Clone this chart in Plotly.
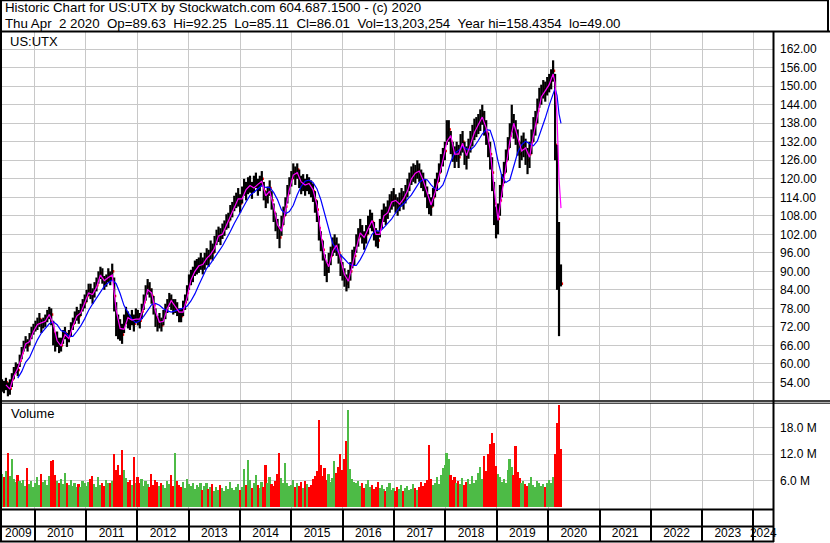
import pandas as pd
import plotly.graph_objects as go

# ---------------- data (biweekly bars) ----------------
close = [
    53, 52.5, 54, 51.5, 52, 55, 57, 59, 58, 61,
    63.5, 66, 67, 66, 68.5, 70, 71, 72.5, 73, 74.5,
    72, 73.5, 74, 75.5, 76.5, 76, 70, 67, 68, 65.5,
    66, 69, 70, 67.5, 69, 71.5, 73, 75, 76, 75.5,
    77.5, 79, 80, 82, 84, 83, 82, 84, 85.5, 88,
    89.5, 88, 86, 87, 89, 87.5, 90, 82, 73, 72,
    71, 69.5, 73, 76, 74, 73.5, 75, 73, 76, 75,
    74, 77, 80, 83, 85, 84, 82, 79, 75, 73,
    74, 72.5, 75, 77, 79, 81, 80, 78.5, 79, 77.5,
    76, 75.5, 78, 80, 83, 86.5, 88, 89, 91, 91.5,
    92, 93, 91.5, 93.5, 95, 94, 97, 96, 99, 101,
    102, 101, 103, 104, 106, 106.5, 109, 110, 112, 113,
    114, 112, 115, 117, 116, 117.5, 118, 116, 118, 119.5,
    117, 118.5, 120, 116, 113, 115, 117, 113, 109, 106,
    104, 101, 105, 108, 111, 115, 118, 120, 122.5, 121,
    123, 120, 118, 119, 117, 119, 118, 117, 116, 113,
    110, 104, 100, 97, 92, 90, 93, 95, 98, 99,
    98, 96, 92, 90, 88, 86, 87.5, 90, 94, 95,
    99, 101, 104, 102, 100, 102, 105, 107, 106, 103,
    101, 100, 104, 107, 109, 108, 110, 112, 113, 114,
    112, 111, 112.5, 114, 113, 115, 117, 119, 121, 122,
    121.5, 123, 122, 120, 119, 117, 114, 112, 111, 114,
    117, 119, 122, 125, 127, 129, 135, 136, 132, 129,
    127, 129, 127, 131, 132, 128, 127, 130, 132, 134,
    136, 137, 138, 139, 141, 138, 135, 131, 128, 122,
    112, 106, 107, 113, 118, 122, 126, 130, 134, 139,
    137, 135, 132, 128, 130, 131, 129, 126, 128, 132,
    136, 138, 142, 146, 147, 149, 148, 150, 151, 152,
    155, 131, 96, 88, 86.01,
]
high = [
    55, 54.5, 55.5, 54, 55, 57, 59, 60.5, 60, 63,
    65.5, 67.5, 69, 68, 70, 72, 73, 74, 75, 76.5,
    74.5, 75, 76, 77.5, 78.5, 78, 74, 70, 70.5, 68.5,
    68.5, 71, 72, 70, 71, 73.5, 75, 77, 78.5, 77.5,
    79.5, 81, 82.5, 84, 86, 86, 84.5, 86.5, 88, 90,
    91.5, 91, 88.5, 89, 91, 90, 92.5, 88, 80, 76,
    74.5, 73, 76, 78.5, 77, 76, 77.5, 76, 78, 77.5,
    76.5, 79.5, 82.5, 85.5, 87.5, 86.5, 84.5, 82, 78, 75.5,
    76.5, 75, 77.5, 79.5, 81, 83, 82.5, 81, 81, 80,
    78, 78, 80.5, 82.5, 85.5, 89, 90.5, 91.5, 93.5, 94,
    94.5, 96, 94.5, 96, 97.5, 97, 100, 99, 101.5, 103.5,
    104.5, 104, 105.5, 106.5, 108.5, 109, 111.5, 112.5, 114.5, 115.5,
    117, 115, 117.5, 120, 119, 120.5, 121, 119, 121, 122,
    120, 121, 122.5, 119, 116, 117.5, 119.5, 116, 112, 109,
    107, 104.5, 108, 111, 114, 118, 120.5, 122.5, 125, 124,
    125, 123, 121, 121.5, 120, 121.5, 120.5, 119.5, 118.5, 116,
    113, 108, 103, 100, 95.5, 93, 96, 98, 101, 102,
    101, 99, 95.5, 93, 91, 89, 90.5, 93, 97, 98,
    102, 104, 107, 105, 103, 105, 108, 110, 109, 106,
    104, 103, 107, 110, 112, 111, 113, 115, 116, 117,
    115, 114, 115.5, 117, 116, 118, 120, 122, 124, 125,
    124.5, 126, 125, 123, 122, 120, 117.5, 115, 114, 117,
    120, 122, 125, 128, 130, 132, 139, 139, 135.5, 132,
    130.5, 132, 131, 134.5, 135.5, 132, 130.5, 133, 135.5, 137.5,
    139.5, 140, 141, 142.5, 144, 142, 139, 135, 132, 127,
    119, 111, 112, 118, 121.5, 125.5, 129.5, 133.5, 138, 144,
    141, 139, 136, 132, 134, 135, 133, 130, 132, 136,
    140, 142, 146, 149.5, 150.5, 152, 151.5, 153, 154, 155.5,
    158.4, 154, 131, 106, 92.25,
]
low = [
    51, 50.5, 51.5, 49.5, 50, 52.5, 55, 57, 56, 59,
    61.5, 64, 65, 64, 66, 68, 69.5, 70.5, 71, 72,
    70, 71.5, 72, 73.5, 74.5, 72.5, 66, 64, 65.5, 63.5,
    64, 66.5, 68, 65.5, 67, 69, 71, 73, 74, 73,
    75.5, 77, 78, 80, 82, 81, 79.5, 81.5, 83.5, 86,
    87.5, 86, 84, 85, 86.5, 85.5, 87, 77, 69, 68,
    67.5, 66.5, 70, 73, 71.5, 71, 72.5, 70.5, 73.5, 72.5,
    71.5, 74.5, 77.5, 80.5, 82.5, 81.5, 79.5, 76, 72, 70.5,
    71.5, 70.5, 72.5, 74.5, 76.5, 78.5, 77.5, 76, 76.5, 75.5,
    73.5, 73.5, 75.5, 77.5, 80.5, 84, 85.5, 86.5, 88.5, 89,
    89.5, 90.5, 89, 90.5, 92, 91.5, 94, 93.5, 96, 98.5,
    99.5, 98.5, 100.5, 101.5, 103.5, 104, 106.5, 107.5, 109.5, 110.5,
    111, 109, 112, 114.5, 113, 115, 115.5, 113.5, 115.5, 117,
    114.5, 116, 117.5, 113, 110.5, 112, 114.5, 110, 106, 103,
    100.5, 97.5, 101.5, 105, 108, 112, 115, 117.5, 120, 118,
    120, 117, 115, 116, 114.5, 116, 115, 114, 112.5, 109,
    106, 100, 96.5, 93.5, 88.5, 86.5, 89.5, 92, 95, 96,
    95, 92.5, 88.5, 87, 85, 83.5, 84.5, 87, 91, 92,
    96, 98, 101, 99, 97, 99, 102, 104, 103, 100,
    98, 97.5, 101, 104, 106, 105, 107, 109, 110, 111,
    109, 108, 109.5, 111, 110, 112, 114, 116, 118, 119,
    118.5, 120, 119, 117, 116, 114, 110.5, 108.5, 108, 111,
    114, 116, 119, 122, 124, 126, 131, 132, 128, 125.5,
    123.5, 125.5, 123.5, 127.5, 128.5, 124.5, 123, 126.5, 128.5, 130.5,
    132.5, 133.5, 134.5, 135.5, 137.5, 134, 131, 127, 123, 116,
    105, 100.7, 102, 108, 114, 118.5, 122, 126, 130, 135,
    133, 131, 127.5, 123.5, 126, 127, 124.5, 121.5, 123.5, 128,
    132, 134, 138, 143, 144, 146, 145, 147, 148, 149,
    151.5, 126, 84, 69, 85.11,
]
volume = [  # millions of shares
    7.5, 6.8, 8.2, 12.2, 7.0, 10.9, 6.5, 5.8, 7.2, 6.0,
    5.5, 6.2, 4.8, 8.8, 5.2, 6.0, 4.6, 5.4, 6.8, 5.0,
    7.5, 5.8, 6.2, 5.0, 7.0, 10.4, 10.6, 7.2, 6.0, 5.6,
    6.4, 5.2, 7.8, 5.6, 5.0, 6.2, 4.8, 5.5, 4.6, 5.2,
    4.5, 6.0, 5.4, 4.8, 5.8, 6.4, 7.0, 5.2, 4.6, 6.8,
    5.0, 5.6, 4.9, 6.2, 5.4, 5.4, 6.0, 12.0, 8.5, 9.6,
    7.2, 12.9, 8.4, 6.6, 5.8, 6.2, 5.0, 11.3, 5.6, 6.8,
    5.4, 6.5, 4.8, 6.0, 5.2, 4.6, 7.5, 5.0, 6.2, 5.8,
    4.8, 5.6, 5.0, 4.4, 6.0, 5.2, 7.2, 4.8, 12.2, 6.0,
    5.0, 4.6, 5.8, 4.4, 6.4, 5.2, 4.8, 5.6, 4.2, 5.0,
    4.6, 5.4, 4.0, 4.8, 5.6, 4.2, 4.5, 5.2, 3.8, 4.6,
    4.0, 5.0, 4.4, 3.8, 4.8, 4.2, 5.8, 4.4, 3.9, 4.6,
    5.2, 4.0, 4.6, 8.6, 5.0, 10.6, 6.2, 4.4, 5.4, 7.4,
    5.0, 4.4, 5.8, 4.6, 9.5, 5.6, 6.8, 5.2, 4.8, 6.0,
    7.6, 12.2, 6.6, 5.4, 10.0, 5.6, 4.8, 5.0, 6.2, 4.6,
    5.4, 4.8, 5.8, 4.4, 6.0, 5.2, 4.6, 5.0, 6.4, 7.0,
    8.2, 19.7, 9.6, 7.0, 8.8, 6.2, 7.6, 5.8, 6.6, 10.5,
    7.8, 9.2, 12.0, 8.4, 11.0, 14.9, 22.0, 8.6, 6.4, 5.8,
    5.4, 6.0, 4.8, 5.6, 4.4, 5.2, 6.2, 4.6, 5.0, 4.2,
    4.6, 5.8, 4.4, 5.0, 4.2, 3.8, 4.6, 5.4, 4.0, 4.4,
    3.8, 4.6, 4.2, 5.0, 3.6, 4.4, 4.8, 3.9, 4.2, 5.2,
    4.4, 4.0, 4.6, 5.8, 4.8, 5.4, 6.2, 14.1, 6.4, 5.0,
    5.6, 6.8, 5.2, 7.4, 8.8, 9.6, 12.2, 11.0, 7.4, 6.2,
    6.8, 5.4, 6.0, 5.2, 6.6, 5.0, 5.8, 6.4, 5.2, 7.0,
    5.6, 6.2, 7.8, 9.0, 6.4, 11.5, 8.2, 12.0, 14.2, 16.8,
    14.4, 9.4, 7.6, 6.8, 5.8, 6.4, 5.4, 8.4, 10.8, 9.0,
    7.4, 13.9, 8.0, 6.6, 5.4, 6.0, 5.2, 4.8, 5.6, 6.8,
    5.0, 4.6, 6.0, 5.4, 4.8, 5.2, 4.6, 5.4, 6.2, 5.6,
    6.8, 12.0, 19.0, 23.0, 13.2,
]
# moving averages, sampled at bar positions listed in ma_idx
ma_idx = list(range(0, 280, 2)) + [280, 281, 282, 283, 284]
ma_fast = [
    None, 53.2, 51.8, 56, 58.5, 62.2, 66.5, 67.2, 70.5, 72.8,
    73.2, 73.8, 76, 73, 67.5, 65.8, 69.5, 68.2, 72.2, 75.5,
    76.5, 79.5, 83, 82.5, 84.8, 88.8, 87, 88, 88.8, 77.5,
    71.5, 71.2, 75, 74.2, 74.5, 74.5, 78.5, 84, 83, 77,
    73.5, 73.8, 78, 80.5, 78.8, 76.8, 76.8, 81.5, 87.2, 90,
    91.8, 92.2, 94.2, 95.5, 97.5, 101.5, 102, 105, 107.8, 111,
    113.5, 113.5, 116.5, 117.8, 117, 118.2, 119.2, 114.5, 116, 111,
    105, 103, 109.5, 116.5, 121.2, 122, 119, 118, 118.5, 116.5,
    111.5, 102, 94.5, 91.5, 96.5, 98.5, 94, 89, 86.8, 92,
    97, 102.5, 101, 103.5, 106.5, 102, 102, 108, 109, 112.5,
    113, 111.8, 113.5, 116, 120, 121.8, 122.5, 119.5, 115.5, 111.5,
    115.5, 120.5, 126, 132, 134, 128, 128, 131.5, 127.5, 131,
    135, 137.5, 140, 136.5, 129.5, 117, 106.5, 115.5, 124, 132,
    138, 133.5, 129, 130, 127, 134, 140, 146.5, 148.5, 150.5,
    154, 151, 140, 120, 110.5,
]
ma_slow = [
    None, None, None, None, 55.4, 57.5, 60.5, 62.1, 65, 67.8,
    70, 71.6, 73, 73.7, 72.7, 70.8, 70.3, 68.9, 68.9, 70.5,
    72.3, 74.6, 77.3, 79.4, 81.4, 83.6, 85.2, 86.3, 87.2, 86,
    82.8, 78.9, 76.8, 74.5, 73.3, 74, 75.4, 77.1, 79.2, 79.6,
    79, 77.9, 77.2, 76.8, 77.1, 77.6, 78.1, 78.7, 80.4, 82.7,
    85.6, 88.6, 91, 92.6, 94.3, 96.3, 98.2, 100.4, 102.9, 105.5,
    108, 110.2, 112.5, 114.6, 115.6, 116.7, 117.8, 117.2, 117.2, 115.6,
    113.2, 109.9, 108.7, 109.4, 111.4, 114.8, 117.6, 119.2, 119.6, 118.8,
    116.8, 113.2, 108.4, 103, 99.1, 97, 95.3, 94, 92.6, 91.9,
    91.9, 93.8, 96.2, 99.2, 102, 103.2, 103, 104.2, 105.6, 107,
    109, 110.8, 111.9, 113.3, 114.8, 116.8, 118.8, 119.8, 119.7, 118,
    116.7, 116.6, 118, 121.4, 125.5, 128.3, 129.2, 130.5, 129.7, 129.4,
    130.5, 132.4, 134.5, 135.9, 135.7, 131.9, 125.7, 120.7, 118.8, 119.6,
    123.7, 128.5, 131, 132.2, 131.4, 130.7, 132.3, 135.7, 139.6, 143.8,
    147.5, 149.3, 147, 141, 138,
]
years = list(range(2009, 2025))
price_ticks = [54, 60, 66, 72, 78, 84, 90, 96, 102, 108, 114, 120, 126, 132, 138, 144, 150, 156, 162]
vol_ticks = [6, 12, 18]
vol_tick_labels = ["6.0 M", "12.0 M", "18.0 M"]

NB2 = "\u00a0\u00a0"
header1 = "Historic Chart for US:UTX by Stockwatch.com 604.687.1500 - (c) 2020"
header2 = NB2.join(["Thu Apr" + NB2 + "2 2020", "Op=89.63", "Hi=92.25", "Lo=85.11",
                    "Cl=86.01", "Vol=13,203,254", "Year hi=158.4354", "lo=49.00"])

# ---------------- geometry ----------------
W, H = 830, 543
ML, MR, MT, MB = 2, 57, 32, 2
PW, PH = W - ML - MR, H - MT - MB


def px(x):
    return (x - ML) / PW


def py(y):
    return (H - MB - y) / PH


FONT = "Liberation Sans, Arial, sans-serif"
GRID = "#c8c8c8"
x0, x1 = pd.Timestamp("2009-05-14"), pd.Timestamp("2024-05-19")

dates = pd.date_range(end="2020-04-02", periods=len(close), freq="14D")
year_starts = [pd.Timestamp(f"{y}-01-01") for y in years[1:]]

# high-low segments
seg_x, seg_y = [], []
for d, lo, hi in zip(dates, low, high):
    seg_x += [d, d, None]
    seg_y += [lo, hi, None]

tick_x = [d + pd.Timedelta(days=6) for d in dates]
vol_colors = ["#4dbb46" if i == 0 or close[i] >= close[i - 1] else "#ff0000" for i in range(len(close))]
ma_dates = [dates[i] for i in ma_idx]

# year label centres in the visible part of each year
lab_x = []
for y in years:
    a = max(pd.Timestamp(f"{y}-01-01"), x0)
    b = min(pd.Timestamp(f"{y + 1}-01-01"), x1)
    lab_x.append(a + (b - a) / 2)

fig = go.Figure()
fig.add_trace(go.Scatter(x=tick_x, y=close, mode="markers",
                         marker=dict(symbol="square", size=2.5, color="#ff0000", line_width=0),
                         xaxis="x", yaxis="y", hoverinfo="skip"))
fig.add_trace(go.Scatter(x=seg_x, y=seg_y, mode="lines", line=dict(color="#000000", width=2.2),
                         xaxis="x", yaxis="y", hoverinfo="skip"))
fig.add_trace(go.Scatter(x=ma_dates, y=ma_slow, mode="lines", line=dict(color="#0000ff", width=1.2),
                         xaxis="x", yaxis="y"))
fig.add_trace(go.Scatter(x=ma_dates, y=ma_fast, mode="lines", line=dict(color="#ff00ff", width=1.2),
                         xaxis="x", yaxis="y"))
fig.add_trace(go.Bar(x=dates, y=volume, marker=dict(color=vol_colors, line_width=0),
                     width=12 * 86400000, xaxis="x2", yaxis="y2"))
fig.add_trace(go.Scatter(x=lab_x, y=[7] * len(years), mode="text", text=[str(y) for y in years],
                         textfont=dict(family=FONT, size=12, color="#000000"),
                         xaxis="x3", yaxis="y3", hoverinfo="skip", cliponaxis=False))

xcommon = dict(type="date", range=[x0, x1], tickvals=year_starts, showticklabels=False,
               ticks="", zeroline=False, showline=False)
fig.update_layout(
    width=W, height=H, margin=dict(l=ML, r=MR, t=MT, b=MB),
    paper_bgcolor="white", plot_bgcolor="white", showlegend=False, bargap=0,
    font=dict(family=FONT, size=12, color="#000000"),
    xaxis=dict(**xcommon, domain=[0, 1], anchor="y", showgrid=True, gridcolor=GRID, gridwidth=1),
    yaxis=dict(domain=[py(400), 1], range=[48.3, 167.58], side="right", anchor="x",
               tickvals=price_ticks, ticktext=[f"{v:.2f}" for v in price_ticks],
               showgrid=True, gridcolor=GRID, gridwidth=1, zeroline=False, ticks="",
               ticklabelstandoff=6, tickfont=dict(family=FONT, size=12, color="#000000")),
    xaxis2=dict(**xcommon, domain=[0, 1], anchor="y2", matches="x", showgrid=True, gridcolor=GRID, gridwidth=1),
    yaxis2=dict(domain=[py(509), py(403)], range=[-0.34, 23.48], side="right", anchor="x2",
                tickvals=vol_ticks, ticktext=vol_tick_labels, showgrid=True, gridcolor=GRID, gridwidth=1,
                zeroline=False, ticks="", ticklabelstandoff=6,
                tickfont=dict(family=FONT, size=12, color="#000000")),
    xaxis3=dict(**xcommon, domain=[0, 1], anchor="y3", matches="x", showgrid=True, gridcolor="#000000", gridwidth=1.5),
    yaxis3=dict(domain=[0, py(509)], range=[0, 32], showgrid=False, showticklabels=False,
                zeroline=False, ticks="", fixedrange=True),
)

K = "#000000"
lines = [
    # (x0, y0, x1, y1, width) in page pixels
    (0, 0.5, 829, 0.5, 1.5),        # header top
    (828, 0, 828, 32, 2),           # header right
    (0, 31.5, 830, 31.5, 2),        # header bottom / price top
    (1, 0, 1, 542, 2),              # left frame
    (773.5, 31, 773.5, 542, 2),     # axis separator
    (0, 401, 830, 401, 1.5),        # double line
    (0, 403.2, 830, 403.2, 1),
    (0, 509.5, 774, 509.5, 2),      # volume bottom
    (0, 526.5, 774, 526.5, 2),      # strip divider
    (0, 541.5, 774, 541.5, 2),      # bottom frame
]
shapes = []
for a, b, c, d, w in lines:
    shapes.append(dict(type="line", xref="paper", yref="paper", x0=px(a), y0=py(b), x1=px(c), y1=py(d),
                       line=dict(color=K, width=w), layer="above"))
fig.update_layout(shapes=shapes)

ann = [
    (3, 8, header1, 13.3), (3, 23.5, header2, 13.3), (8, 42, "US:UTX", 13), (9, 414, "Volume", 13),
]
for x, y, t, s in ann:
    fig.add_annotation(x=px(x), y=py(y), xref="paper", yref="paper", text=t, showarrow=False,
                       xanchor="left", yanchor="middle", font=dict(family=FONT, size=s, color="#000000"))

fig.write_html("out.html", config={"displayModeBar": False},
               post_script="document.body.style.margin='0';document.body.style.padding='0';")
